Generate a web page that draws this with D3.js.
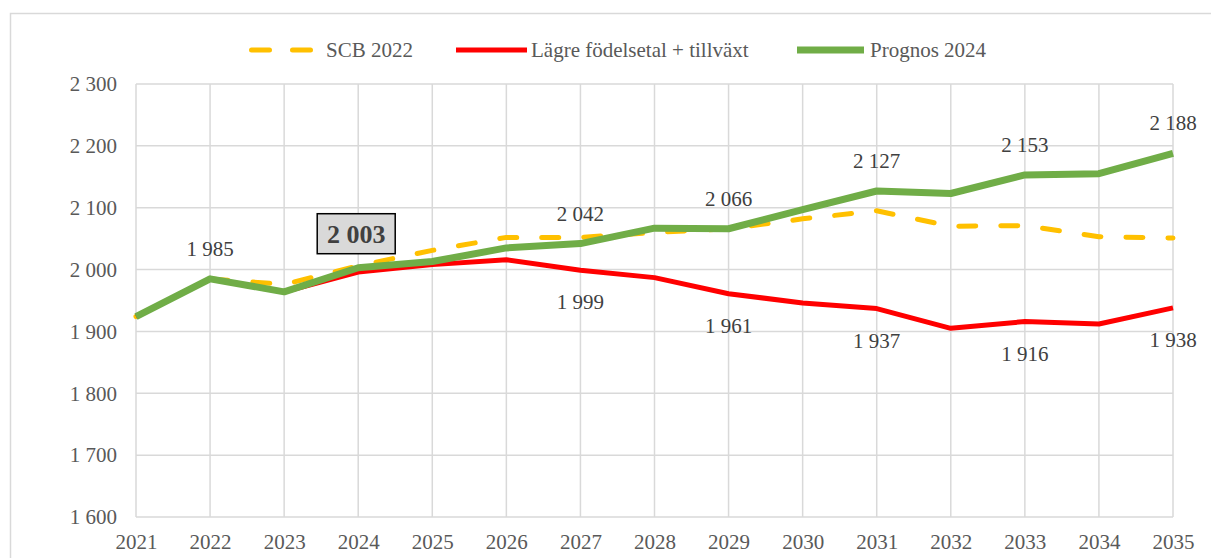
<!DOCTYPE html>
<html>
<head>
<meta charset="utf-8">
<script src="https://cdn.jsdelivr.net/npm/d3@7"></script>
<style>
  body { margin: 0; background: #fff; }
  text { font-family: "Liberation Serif", "Times New Roman", serif; }
</style>
</head>
<body>
<svg id="chart" width="1211" height="558"></svg>
<script>
// years on the x axis
const years = [2021, 2022, 2023, 2024, 2025, 2026, 2027, 2028, 2029, 2030, 2031, 2032, 2033, 2034, 2035];
const yTicks = [1600, 1700, 1800, 1900, 2000, 2100, 2200, 2300];

// series
const scb2022 = [1924, 1985, 1976, 2006, 2031, 2052, 2052, 2060, 2066, 2082, 2095, 2070, 2071, 2053, 2051];
const lagre = [1924, 1985, 1964, 1996, 2008, 2016, 1999, 1987, 1961, 1946, 1937, 1905, 1916, 1912, 1938];
const prognos = [1924, 1985, 1964, 2003, 2013, 2035, 2042, 2067, 2066, 2097, 2127, 2123, 2153, 2155, 2188];

// which points get a data label
const prognosLabelYears = [2022, 2027, 2029, 2031, 2033, 2035];
const lagreLabelYears = [2027, 2029, 2031, 2033, 2035];
const boxedYear = 2024;

const series = [
  { name: 'SCB 2022', values: scb2022, color: '#ffc000', width: 5, dash: '17,25' },
  { name: 'Lägre födelsetal + tillväxt', values: lagre, color: '#ff0000', width: 5, dash: null },
  { name: 'Prognos 2024', values: prognos, color: '#70ad47', width: 7, dash: null }
];

const fmt = v => d3.format(',')(v).replace(',', ' ');
const fs = 21;

const svg = d3.select('#chart');

// outer chart border
svg.append('rect')
  .attr('x', 10.5).attr('y', 13.5)
  .attr('width', 1230).attr('height', 560)
  .attr('fill', 'none')
  .attr('stroke', '#d9d9d9')
  .attr('stroke-width', 1.5);

let x = d3.scaleLinear().domain([2021, 2035]).range([136, 1173]);
let y = d3.scaleLinear().domain([1600, 2300]).range([517, 84]);

// grid
svg.append('g').selectAll('line.h')
  .data(yTicks)
  .join('line')
  .attr('x1', x(2021)).attr('x2', x(2035))
  .attr('y1', d => y(d)).attr('y2', d => y(d))
  .attr('stroke', '#d9d9d9').attr('stroke-width', 1.5);

svg.append('g').selectAll('line.v')
  .data(years)
  .join('line')
  .attr('x1', d => x(d)).attr('x2', d => x(d))
  .attr('y1', y(2300)).attr('y2', y(1600))
  .attr('stroke', '#d9d9d9').attr('stroke-width', 1.5);

// axes
let yAxis = d3.axisLeft(y).tickValues(yTicks).tickSize(0).tickPadding(19).tickFormat(fmt);
svg.append('g')
  .attr('transform', `translate(${x(2021)},0)`)
  .call(yAxis)
  .call(g => g.select('.domain').remove())
  .selectAll('text')
  .attr('font-size', fs)
  .attr('font-family', '"Liberation Serif", serif')
  .attr('fill', '#595959');

let xAxis = d3.axisBottom(x).tickValues(years).tickSize(0).tickPadding(17).tickFormat(d3.format('d'));
svg.append('g')
  .attr('transform', `translate(0,${y(1600)})`)
  .call(xAxis)
  .call(g => g.select('.domain').remove())
  .selectAll('text')
  .attr('font-size', fs)
  .attr('font-family', '"Liberation Serif", serif')
  .attr('fill', '#595959');

// lines
let line = d3.line()
  .x((d, i) => x(years[i]))
  .y(d => y(d))
  .curve(d3.curveLinear);

series.forEach(s => {
  svg.append('path')
    .datum(s.values)
    .attr('d', line)
    .attr('fill', 'none')
    .attr('stroke', s.color)
    .attr('stroke-width', s.width)
    .attr('stroke-linejoin', 'round')
    .attr('stroke-linecap', s.dash ? 'round' : 'butt')
    .attr('stroke-dasharray', s.dash);
});

// data labels
const labels = svg.append('g')
  .attr('font-size', fs)
  .attr('fill', '#404040')
  .attr('text-anchor', 'middle');

prognosLabelYears.forEach(yr => {
  let v = prognos[years.indexOf(yr)];
  labels.append('text')
    .attr('x', x(yr)).attr('y', y(v) - 23)
    .text(fmt(v));
});

lagreLabelYears.forEach(yr => {
  let v = lagre[years.indexOf(yr)];
  labels.append('text')
    .attr('x', x(yr)).attr('y', y(v) + 39)
    .text(fmt(v));
});

// boxed highlighted label
let bv = prognos[years.indexOf(boxedYear)];
let bx = x(boxedYear) - 2, by = y(bv) - 34;
svg.append('rect')
  .attr('x', bx - 39).attr('y', by - 20)
  .attr('width', 78).attr('height', 40)
  .attr('fill', '#d9d9d9')
  .attr('stroke', '#000')
  .attr('stroke-width', 1.5);
svg.append('text')
  .attr('x', bx).attr('y', by + 9)
  .attr('text-anchor', 'middle')
  .attr('font-size', 26)
  .attr('font-weight', 'bold')
  .attr('fill', '#404040')
  .text(fmt(bv));

// legend
const legendItems = [
  { s: series[0], x0: 251.5, x1: 310.5, textX: 326 },
  { s: series[1], x0: 456, x1: 527, textX: 531 },
  { s: series[2], x0: 797, x1: 864, textX: 870 }
];
const legend = svg.append('g');
legendItems.forEach(it => {
  legend.append('line')
    .attr('x1', it.x0).attr('x2', it.x1)
    .attr('y1', 50).attr('y2', 50)
    .attr('stroke', it.s.color)
    .attr('stroke-width', it.s.width)
    .attr('stroke-linecap', it.s.dash ? 'round' : 'butt')
    .attr('stroke-dasharray', it.s.dash ? '18,23' : null);
  legend.append('text')
    .attr('x', it.textX).attr('y', 57)
    .attr('font-size', fs)
    .attr('fill', '#595959')
    .text(it.s.name);
});
</script>
</body>
</html>
